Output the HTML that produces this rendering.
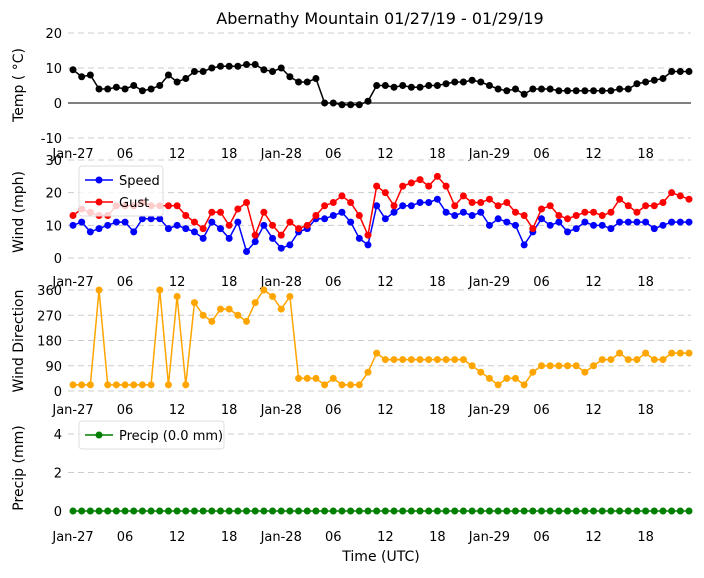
<!DOCTYPE html>
<html><head><meta charset="utf-8"><style>
body{margin:0;background:#fff;}
svg{font-family:"DejaVu Sans","Liberation Sans",sans-serif;}
</style></head><body>
<svg id="c" width="704" height="573">
<text x="380" y="24" text-anchor="middle" font-size="16">Abernathy Mountain 01/27/19 - 01/29/19</text>
</svg>
<script>
const hours=[];for(let i=0;i<72;i++)hours.push(i);
const temp=[9.5,7.5,8,4,4,4.5,4,5,3.5,4,5,8,6,7,9,9,10,10.5,10.5,10.5,11,11,9.5,9,10,7.5,6,6,7,0,0,-0.5,-0.5,-0.5,0.5,5,5,4.5,5,4.5,4.5,5,5,5.5,6,6,6.5,6,5,4,3.5,4,2.5,4,4,4,3.5,3.5,3.5,3.5,3.5,3.5,3.5,4,4,5.5,6,6.5,7,9,9,9];
const speed=[10,11,8,9,10,11,11,8,12,12,12,9,10,9,8,6,11,9,6,11,2,5,10,6,3,4,8,9,12,12,13,14,11,6,4,16,12,14,16,16,17,17,18,14,13,14,13,14,10,12,11,10,4,8,12,10,11,8,9,11,10,10,9,11,11,11,11,9,10,11,11,11];
const gust=[13,15,14,13,13,16,16,16,17,16,16,16,16,13,11,9,14,14,10,15,17,7,14,10,7,11,9,10,13,16,17,19,17,13,7,22,20,16,22,23,24,22,25,22,16,19,17,17,18,16,17,14,13,9,15,16,13,12,13,14,14,13,14,18,16,14,16,16,17,20,19,18];
const dir=[22,22,22,360,22,22,22,22,22,22,360,22,337,22,315,270,248,292,292,270,248,315,360,337,292,337,45,45,45,22,45,22,22,22,67,135,112,112,112,112,112,112,112,112,112,112,90,67,45,22,45,45,22,67,90,90,90,90,90,67,90,112,112,135,112,112,135,112,112,135,135,135];
const precip=new Array(72).fill(0);
const xTickHours=[0,6,12,18,24,30,36,42,48,54,60,66];
const xTickLabels=["Jan-27","06","12","18","Jan-28","06","12","18","Jan-29","06","12","18"];
const NS="http://www.w3.org/2000/svg";
const svg=document.getElementById('c');
function x(h){return 73+h*(689-73)/71;}
function mk(tag,attrs,parent){const e=document.createElementNS(NS,tag);for(const k in attrs)e.setAttribute(k,attrs[k]);(parent||svg).appendChild(e);return e;}
const panels=[
 {name:'temp',v0:20,y0:33,v1:-10,y1:138,ticks:[20,10,0,-10],grid:[20,10,-10],zero:true,label:'Temp ( °C)',lx:153,ly:85},
 {name:'wind',v0:30,y0:160,v1:0,y1:258,ticks:[0,10,20,30],grid:[0,10,20,30],label:'Wind (mph)',lx:281,ly:212},
 {name:'dir',v0:360,y0:290,v1:0,y1:391,ticks:[0,90,180,270,360],grid:[0,90,180,270,360],label:'Wind Direction',lx:409,ly:341},
 {name:'precip',v0:4,y0:434,v1:0,y1:511,ticks:[0,2,4],grid:[2,4],label:'Precip (mm)',lx:536,ly:468}
];
panels.forEach(p=>{
 p.y=v=>p.y0+(v-p.v0)*(p.y1-p.y0)/(p.v1-p.v0);
 const g=mk('g',{});
 
 
 p.g=g;
 p.grid.forEach(v=>{const l=mk('line',{x1:68,x2:691,y1:p.y(v),y2:p.y(v),stroke:'#ccc','stroke-dasharray':'6,4','stroke-width':1},g);
  });
 if(p.zero){const l=mk('line',{x1:68,x2:691,y1:p.y(0),y2:p.y(0),stroke:'#000','stroke-width':1},g);
  }
 p.ticks.forEach(v=>{const t=mk('text',{x:62,y:p.y(v)+5,'text-anchor':'end','font-size':13},g);t.textContent=v;
  });
 xTickHours.forEach((h,i)=>{const t=mk('text',{x:x(h),y:p.lx+5,'text-anchor':'middle','font-size':13},g);t.textContent=xTickLabels[i];
  });
 const yl=mk('text',{x:0,y:0,'text-anchor':'middle','font-size':14,transform:`translate(23,${p.ly}) rotate(-90)`},g);yl.textContent=p.label;
 
});
function series(p,vals,color,name){
 const g=mk('g',{},p.g);
 
 
 mk('polyline',{points:vals.map((v,i)=>x(hours[i])+','+p.y(v)).join(' '),fill:'none',stroke:color,'stroke-width':1.5},g);
 vals.forEach((v,i)=>{const c=mk('circle',{cx:x(hours[i]),cy:p.y(v),r:3.5,fill:color},g);
  });
}
series(panels[0],temp,'#000','temp');
series(panels[1],speed,'#0000ff','speed');
series(panels[1],gust,'#ff0000','gust');
series(panels[2],dir,'#ffa500','direction');
series(panels[3],precip,'#008000','precip');
function legend(items,lx,ly,w){
 const g=mk('g',{});
 
 
 mk('rect',{x:lx,y:ly,width:w,height:items.length*22+6,rx:3,fill:'#fff','fill-opacity':0.8,stroke:'#ddd'},g);
 items.forEach((it,i)=>{const cy=ly+14+i*22;
  mk('line',{x1:lx+6,x2:lx+34,y1:cy,y2:cy,stroke:it[1],'stroke-width':1.5},g);
  mk('circle',{cx:lx+20,cy:cy,r:3.5,fill:it[1]},g);
  const t=mk('text',{x:lx+40,y:cy+5,'font-size':13},g);t.textContent=it[0];
  });
}
legend([['Speed','#0000ff'],['Gust','#ff0000']],79,166,84);
legend([['Precip (0.0 mm)','#008000']],79,421,145);
const xt=mk('text',{x:381,y:561,'text-anchor':'middle','font-size':14});xt.textContent='Time (UTC)';

</script>
</body></html>
